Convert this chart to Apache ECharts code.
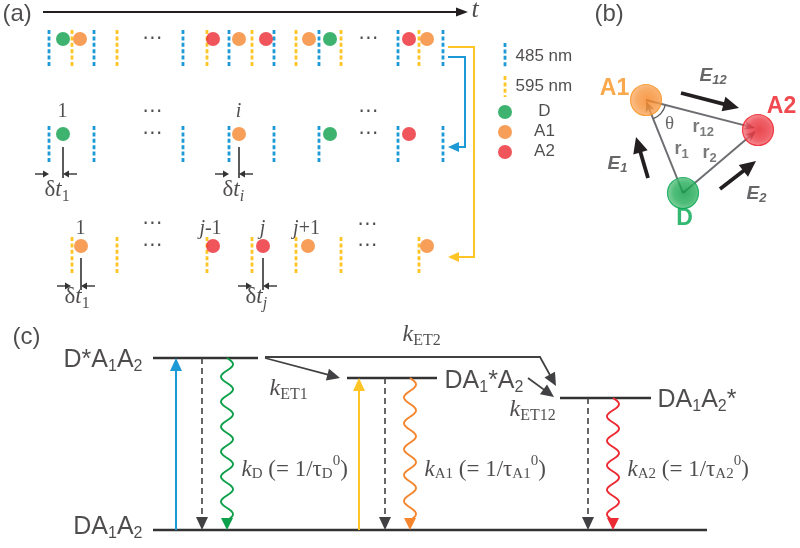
<!DOCTYPE html>
<html><head><meta charset="utf-8">
<script src="https://cdn.jsdelivr.net/npm/echarts@6/dist/echarts.min.js"></script>
<style>html,body{margin:0;padding:0;background:#fff}#c{width:800px;height:548px}</style>
</head><body><div id="c"></div><script>
// ---------------- DATA ----------------
// (a) excitation pulse times (pixel-scale time axis)
const pulses485 = [49, 94, 183, 229, 274, 319, 398, 443];
const pulses595 = [72, 117, 207, 252, 296, 341, 419];
// photon detections: [time, emitter]
const photonsAll = [[63,'D'],[80,'A1'],[213,'A2'],[239,'A1'],[266,'A2'],[309,'A1'],[330,'D'],[409,'A2'],[427,'A1']];
const photons485 = [[63,'D'],[239,'A1'],[330,'D'],[409,'A2']];
const photons595 = [[81,'A1'],[213,'A2'],[263,'A2'],[308,'A1'],[427,'A1']];
const ellipsisTimes = [153, 369];
// delay markers: [photon time, pulse time, row]
const delayMarks = [[63,49,2],[239,229,2],[81,71,3],[263,252,3]];
const legendItems = ['D','A1','A2'];
const timeAxisPath = [[43,12],[468,12]];
const route595 = [[448,47],[474,47],[474,257],[448,257]];
const route485 = [[448,57],[465,57],[465,147],[448,147]];
// (b) geometry
const nodes = {A1:[646,100], A2:[758,130], D:[683,193]};
const bonds = [[[683,193],[646,101]], [[683,193],[756,131]], [[646,100],[755,128]]];
const fields = [[[681,93],[739,108]], [[648,178],[636,137]], [[720,189],[756,161]]];
// (c) energy diagram
const levels = [[153,258,358],[347,437,378],[560,651,398],[153,707,530]];
const excitations = [[176,530,358],[359,530,378]];
const nonRadiative = [[202,358,530],[385,378,530],[588,398,530]];
const radiative = [[227,358,530,'D'],[410,378,530,'A1'],[613,398,530,'A2']];
const transfers = [[[265,358],[340,378]], [[265,357],[540,357],[556,386]], [[528,378],[554,397]]];
// texts: [x, y, text, preset, align]
const texts = [
  [3,15,'(a)','panel','left'], [595,15,'(b)','panel','left'], [13,338,'(c)','panel','left'],
  [472,11,'t','t','left'],
  [516,57,'485 nm','leg','left'], [516,87,'595 nm','leg','left'],
  [545,112,'D','leg','center'], [545,132,'A1','leg','center'], [545,152,'A2','leg','center'],
  [63,112,'1','num','center'], [239,112,'{it|i}','num','center'],
  [81,229,'1','num','center'], [211,229,'{it|j}-1','num','center'], [263,229,'{it|j}','num','center'], [307,229,'{it|j}+1','num','center'],
  [45,190,'δ{it|t}{s|1}','dt','left'], [223,190,'δ{it|t}{si|i}','dt','left'],
  [65,297,'δ{it|t}{s|1}','dt','left'], [246,297,'δ{it|t}{si|j}','dt','left'],
  [615,89,'A1','bA1','center'], [782,107,'A2','bA2','center'], [685,219,'D','bD','center'],
  [670,125,'θ','theta','center'],
  [693,128,'r{s|12}','r','left'], [675,150,'r{s|1}','r','left'], [703,154,'r{s|2}','r','left'],
  [700,76,'E{s|12}','E','left'], [608,164,'E{s|1}','E','left'], [747,194,'E{s|2}','E','left'],
  [143,361,'D*A{s|1}A{s|2}','lvl','right'], [143,528,'DA{s|1}A{s|2}','lvl','right'],
  [445,382,'DA{s|1}*A{s|2}','lvl','left'], [658,401,'DA{s|1}A{s|2}*','lvl','left'],
  [403,335,'{k|k}{s|ET2}','k','left'], [270,389,'{k|k}{s|ET1}','k','left'], [510,410,'{k|k}{s|ET12}','k','left'],
  [242,470,'{k|k}{s|D} (= 1/τ{s|D}{p|0})','kr','left'],
  [425,470,'{k|k}{s|A1} (= 1/τ{s|A1}{p|0})','kr','left'],
  [628,470,'{k|k}{s|A2} (= 1/τ{s|A2}{p|0})','kr','left']
];

// ---------------- STYLE ----------------
const INK = '#231f20', BLUE = '#1d9ad6', YEL = '#ffc425', GRAY = '#6d6e71';
const COL = {D:'#0ea04b', A1:'#f5862e', A2:'#ec2a33'};
const SANS = 'Liberation Sans', SERIF = 'Liberation Serif';
const sub = (fs, d, extra) => Object.assign({fontSize:fs, padding:[d,0,0,0]}, extra||{});
const sup = (fs, d) => ({fontSize:fs, padding:[0,0,d,0]});
const P = {
  panel:{fontFamily:SANS, fontSize:24},
  leg:{fontFamily:SANS, fontSize:17},
  t:{fontFamily:SERIF, fontSize:26, fontStyle:'italic'},
  num:{fontFamily:SERIF, fontSize:20, rich:{it:{fontStyle:'italic'}}},
  ell:{fontFamily:'DejaVu Sans', fontSize:20},
  dt:{fontFamily:SERIF, fontSize:23, rich:{it:{fontStyle:'italic'}, s:sub(16,14), si:sub(16,14,{fontStyle:'italic'})}},
  bA1:{fontFamily:SANS, fontSize:23, fontWeight:'bold', color:'#f7931e'},
  bA2:{fontFamily:SANS, fontSize:23, fontWeight:'bold', color:'#ed1c24'},
  bD:{fontFamily:SANS, fontSize:23, fontWeight:'bold', color:'#00a651'},
  theta:{fontFamily:SERIF, fontSize:19, color:'#414042'},
  r:{fontFamily:SANS, fontSize:18, fontWeight:'bold', color:'#58595b', rich:{s:sub(13,10)}},
  E:{fontFamily:SANS, fontSize:19, fontWeight:'bold', fontStyle:'italic', color:'#414042', rich:{s:sub(13,10)}},
  lvl:{fontFamily:SANS, fontSize:25, rich:{s:sub(16,13)}},
  k:{fontFamily:SERIF, fontSize:24, rich:{k:{fontStyle:'italic'}, s:sub(16,12)}},
  kr:{fontFamily:SERIF, fontSize:23, rich:{k:{fontStyle:'italic'}, s:sub(15,10), p:sup(15,16)}}
};

// ---------------- BUILDERS ----------------
function buildPath(pts, st) {
  const children = [];
  const line = pts.slice();
  if (st.head) {
    const n = pts.length, tip = pts[n-1], prev = pts[n-2];
    let dx = tip[0]-prev[0], dy = tip[1]-prev[1];
    const len = Math.hypot(dx, dy); dx /= len; dy /= len;
    const L = st.head[0], W = st.head[1], nx = -dy, ny = dx;
    const bx = tip[0]-dx*L, by = tip[1]-dy*L;
    const poly = st.notch
      ? [tip, [bx+nx*W/2, by+ny*W/2], [tip[0]-dx*L*st.notch, tip[1]-dy*L*st.notch], [bx-nx*W/2, by-ny*W/2]]
      : [tip, [bx+nx*W/2, by+ny*W/2], [bx-nx*W/2, by-ny*W/2]];
    line[n-1] = [tip[0]-dx*L*0.6, tip[1]-dy*L*0.6];
    children.push({type:'polygon', shape:{points:poly}, style:{fill:st.color, stroke:null}});
  }
  children.unshift({type:'polyline', shape:{points:line},
    style:{stroke:st.color, lineWidth:st.width, lineDash:st.dash||null, fill:'none'}});
  return {type:'group', children};
}
function pathSeries(paths, st) {
  return {
    type:'custom', coordinateSystem:'cartesian2d', clip:false, silent:true, animation:false,
    data: paths.map((p, i) => [p[0][0], p[0][1], i]),
    renderItem: (params, api) => buildPath(paths[api.value(2)].map(p => api.coord(p)), st)
  };
}
function vSegs(xs, y0, y1) { return xs.map(x => [[x, y0], [x, y1]]); }
function dotSeries(list, y, size) {
  return {type:'scatter', silent:true, animation:false, symbolSize:size, z:3,
    data: list.map(d => ({value:[d[0], y], itemStyle:{color:COL[d[1]]}}))};
}

const series = [];
// (a) time axis and routing arrows
series.push(pathSeries([timeAxisPath], {color:INK, width:2, head:[12,9]}));
series.push(pathSeries([route595], {color:YEL, width:2, head:[11,10]}));
series.push(pathSeries([route485], {color:BLUE, width:2, head:[11,10]}));
// pulse markers
const dashB = {color:BLUE, width:2.8, dash:[4,2.4]}, dashY = {color:YEL, width:2.8, dash:[4,2.4]};
series.push(pathSeries(vSegs(pulses485, 30, 68), dashB));
series.push(pathSeries(vSegs(pulses595, 30, 68), dashY));
series.push(pathSeries(vSegs(pulses485, 126, 163), dashB));
series.push(pathSeries(vSegs(pulses595, 237, 275), dashY));
series.push(pathSeries([[[505,43],[505,68]]], dashB));
series.push(pathSeries([[[505,76],[505,97]]], dashY));
// photons
series.push(dotSeries(photonsAll, 39, 14));
series.push(dotSeries(photons485, 134, 14));
series.push(dotSeries(photons595, 246, 14));
series.push({type:'scatter', silent:true, animation:false, symbolSize:14, z:3,
  data: legendItems.map((k, i) => ({value:[505, 112 + 20*i], itemStyle:{color:COL[k]}}))});
// delay markers
const rowGeom = {2:[147,178,174], 3:[258,290,286]};
series.push(pathSeries(delayMarks.map(d => [[d[0], rowGeom[d[2]][0]], [d[0], rowGeom[d[2]][1]]]), {color:'#333', width:1.6}));
series.push(pathSeries(delayMarks.flatMap(d => {
  const y = rowGeom[d[2]][2];
  return [[[d[1]-14, y], [d[1], y]], [[d[0]+14, y], [d[0], y]]];
}), {color:'#333', width:1.4, head:[6,7]}));

// (b) molecules
const grad = (c0, c1, c2) => ({type:'radial', x:0.55, y:0.5, r:0.55,
  colorStops:[{offset:0, color:c0}, {offset:0.6, color:c1}, {offset:1, color:c2}]});
const nodeStyle = {
  A1:{color:grad('#f5821f','#f7963f','#fab272'), borderColor:'#f7931e'},
  A2:{color:grad('#e31b23','#ec3b45','#f47d85'), borderColor:'#ed1c24'},
  D:{color:grad('#0a9a45','#22ad58','#6cc68a'), borderColor:'#00a651'}
};
series.push({type:'scatter', silent:true, animation:false, symbolSize:31, z:2,
  data: Object.keys(nodes).map(k => ({value:nodes[k],
    itemStyle:Object.assign({borderWidth:1.2}, nodeStyle[k])}))});
series.push(pathSeries(bonds, {color:GRAY, width:2, head:[11,9], notch:0.7}));
series.push(pathSeries(fields, {color:INK, width:3.8, head:[16,15]}));
series.push({type:'custom', coordinateSystem:'cartesian2d', clip:false, silent:true, animation:false,
  data:[nodes.A1], renderItem: (params, api) => {
    const c = api.coord(nodes.A1), d = api.coord(nodes.D), a2 = api.coord(nodes.A2);
    return {type:'arc', shape:{cx:c[0], cy:c[1], r:20,
      startAngle:Math.atan2(a2[1]-c[1], a2[0]-c[0]), endAngle:Math.atan2(d[1]-c[1], d[0]-c[0]), clockwise:true},
      style:{stroke:'#58595b', lineWidth:1.3, fill:'none'}};
  }});

// (c) energy levels
series.push(pathSeries(levels.map(l => [[l[0], l[2]], [l[1], l[2]]]), {color:'#333', width:2.5}));
series.push(pathSeries([[[excitations[0][0], excitations[0][1]], [excitations[0][0], excitations[0][2]]]], {color:BLUE, width:2, head:[13,12]}));
series.push(pathSeries([[[excitations[1][0], excitations[1][1]], [excitations[1][0], excitations[1][2]]]], {color:YEL, width:2, head:[13,12]}));
series.push(pathSeries(nonRadiative.map(a => [[a[0], a[1]], [a[0], a[2]]]), {color:'#414042', width:1.6, dash:[6,4], head:[13,12]}));
series.push(pathSeries(transfers, {color:'#414042', width:1.8, head:[13,12]}));
series.push({type:'custom', coordinateSystem:'cartesian2d', clip:false, silent:true, animation:false,
  data: radiative.map((w, i) => [w[0], w[1], i]),
  renderItem: (params, api) => {
    const w = radiative[api.value(2)];
    const top = api.coord([w[0], w[1]]), bot = api.coord([w[0], w[2]]);
    const L = 12, W = 12, A = 6, lam = 25;
    const endY = bot[1] - L*0.8, len = endY - top[1];
    const k = Math.max(1, Math.round(len/(lam/2))), half = len/k;
    const pts = [];
    for (let t = 0; t <= len; t += 1) pts.push([top[0] + A*Math.sin(Math.PI*t/half), top[1] + t]);
    pts.push([top[0], endY]);
    return {type:'group', children:[
      {type:'polyline', shape:{points:pts}, style:{stroke:COL[w[3]], lineWidth:1.9, fill:'none'}},
      {type:'polygon', shape:{points:[[bot[0], bot[1]], [bot[0]-W/2, bot[1]-L], [bot[0]+W/2, bot[1]-L]]}, style:{fill:COL[w[3]]}}
    ]};
  }});

// texts
const ellTexts = [];
ellipsisTimes.forEach(x => { ellTexts.push([x, 39], [x, 112], [x, 134]); });
ellTexts.push([153, 224], [153, 246], [368, 225], [368, 246]);
function textItem(x, y, s, key, align) {
  const p = P[key];
  return {value:[x, y], label:Object.assign({show:true, position:[0,0], formatter:s, align:align,
    verticalAlign:'middle', color:INK, textBorderWidth:0}, p, {rich:p.rich||{}})};
}
series.push({type:'scatter', silent:true, animation:false, symbolSize:1, z:10,
  itemStyle:{color:'rgba(0,0,0,0)'},
  data: texts.map(t => textItem(t[0], t[1], t[2], t[3], t[4]))
    .concat(ellTexts.map(e => textItem(e[0], e[1], '⋯', 'ell', 'center')))});

const chart = echarts.init(document.getElementById('c'), null, {renderer:'canvas'});
chart.setOption({
  animation:false,
  grid:{left:0, right:0, top:0, bottom:0, containLabel:false, outerBoundsMode:'none'},
  xAxis:{type:'value', min:0, max:800, show:false},
  yAxis:{type:'value', min:0, max:548, inverse:true, show:false},
  series
});
</script></body></html>
